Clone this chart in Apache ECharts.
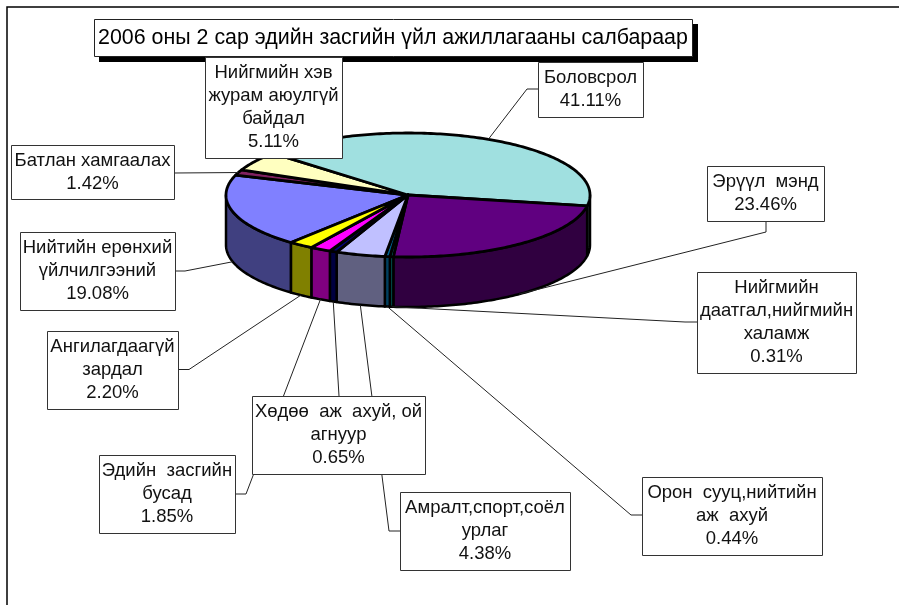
<!DOCTYPE html>
<html>
<head>
<meta charset="utf-8">
<style>
html, body { margin: 0; padding: 0; background: #fff; }
#chart { width: 899px; height: 605px; }
</style>
<script src="https://cdn.jsdelivr.net/npm/echarts@6/dist/echarts.min.js"></script>
</head>
<body>
<div id="chart"></div>
<script>
var titleText = '2006 оны 2 сар эдийн засгийн үйл ажиллагааны салбараар';

// slices, clockwise, same order as the sheet
var categories = [
    'Нийтийн ерөнхий\nүйлчилгээний',
    'Батлан хамгаалах',
    'Нийгмийн хэв\nжурам аюулгүй\nбайдал',
    'Боловсрол',
    'Эрүүл  мэнд',
    'Нийгмийн\nдаатгал,нийгмийн\nхаламж',
    'Орон  сууц,нийтийн\nаж  ахуй',
    'Амралт,спорт,соёл\nурлаг',
    'Хөдөө  аж  ахуй, ой\nагнуур',
    'Эдийн  засгийн\nбусад',
    'Ангилагдаагүй\nзардал'
];
var shares = [19.08, 1.42, 5.11, 41.11, 23.46, 0.31, 0.44, 4.38, 0.65, 1.85, 2.20];
var topColors = ['#8080ff', '#802060', '#ffffc0', '#a0e0e0', '#600080', '#008080', '#006090', '#c0c0ff', '#000080', '#ff00ff', '#ffff00'];
var sideColors = ['#404080', '#401030', '#808060', '#507070', '#300040', '#005050', '#004060', '#606080', '#000040', '#800080', '#808000'];

// label boxes: left, top, right, bottom
var labelBoxes = [
    [20, 232, 175, 310],
    [11, 145, 174, 199],
    [205, 57, 342, 158],
    [538, 62, 643, 117],
    [707, 166, 824, 221],
    [697, 272, 856, 373],
    [642, 477, 822, 555],
    [400, 492, 570, 570],
    [252, 396, 425, 474],
    [99, 455, 235, 533],
    [47, 331, 178, 409]
];
// leader: start on the box, then elbow (null = straight / no leader)
var leaders = [
    [[175, 271], [185, 271]],
    [[174, 173], null],
    null,
    [[538, 89], [527, 89]],
    [[766, 221], [766, 232]],
    [[697, 322], [685, 322]],
    [[642, 515], [631, 515]],
    [[400, 531], [389, 531]],
    [[339, 396], null],
    [[235, 494], [246, 494]],
    [[178, 369.5], [189, 369.5]]
];

var cx = 408, cy = 195, rx = 182, ry = 62, depth = 50;
var startAngle = 130;
var total = shares.reduce(function (a, b) { return a + b; }, 0);

function sliceRange(idx) {
    var a = startAngle;
    for (var i = 0; i < idx; i++) {
        a += shares[i] / total * 360;
    }
    return [a, a + shares[idx] / total * 360];
}

function rimPoint(deg, dy) {
    var t = deg * Math.PI / 180;
    return [cx + rx * Math.cos(t), cy + ry * Math.sin(t) + (dy || 0)];
}

function arcPoints(a, b, dy) {
    var pts = [];
    var n = Math.max(1, Math.ceil(Math.abs(b - a)));
    for (var i = 0; i <= n; i++) {
        pts.push(rimPoint(a + (b - a) * i / n, dy));
    }
    return pts;
}

// rim wall of a slice, only the part that faces the viewer (0-180 deg)
function renderSide(params, api) {
    var r = sliceRange(params.dataIndex);
    var children = [];
    [0, 360].forEach(function (off) {
        var a = Math.max(r[0], off);
        var b = Math.min(r[1], off + 180);
        if (b > a) {
            children.push({
                type: 'polygon',
                shape: { points: arcPoints(a, b, 0).concat(arcPoints(b, a, depth)) },
                style: { fill: sideColors[params.dataIndex], stroke: '#000', lineWidth: 2.5, lineJoin: 'round' }
            });
        }
    });
    return { type: 'group', children: children };
}

function renderTop(params, api) {
    var r = sliceRange(params.dataIndex);
    return {
        type: 'polygon',
        shape: { points: [[cx, cy]].concat(arcPoints(r[0], r[1], 0)) },
        style: { fill: topColors[params.dataIndex], stroke: '#000', lineWidth: 2.8, lineJoin: 'round' }
    };
}

// excel hangs the leader on the rim at the middle of the slice
function renderLeader(params, api) {
    var leader = leaders[params.dataIndex];
    if (!leader) {
        return { type: 'group', children: [] };
    }
    var r = sliceRange(params.dataIndex);
    var mid = (r[0] + r[1]) / 2 % 360;
    var end = rimPoint(mid, mid < 180 ? depth : 0);
    var pts = [leader[0]];
    if (leader[1]) {
        pts.push(leader[1]);
    }
    pts.push(end);
    return {
        type: 'polyline',
        shape: { points: pts },
        style: { fill: null, stroke: '#222', lineWidth: 1 }
    };
}

function renderLabel(params, api) {
    var i = params.dataIndex;
    var b = labelBoxes[i];
    return {
        type: 'group',
        children: [{
            type: 'rect',
            shape: { x: b[0] + 0.5, y: b[1] + 0.5, width: b[2] - b[0], height: b[3] - b[1] },
            style: { fill: '#fff', stroke: '#333', lineWidth: 1 }
        }, {
            type: 'text',
            x: (b[0] + b[2]) / 2,
            y: (b[1] + b[3]) / 2,
            style: {
                text: categories[i] + '\n' + api.value(0).toFixed(2) + '%',
                fill: '#111',
                font: '18.5px "Liberation Sans", Arial, sans-serif',
                lineHeight: 23,
                align: 'center',
                verticalAlign: 'middle'
            }
        }]
    };
}

function layer(render, z) {
    return {
        type: 'custom',
        coordinateSystem: 'none',
        silent: true,
        z: z,
        renderItem: render,
        data: shares.map(function (v) { return [v]; })
    };
}

var chart = echarts.init(document.getElementById('chart'), null, { renderer: 'canvas' });
chart.setOption({
    animation: false,
    title: {
        text: titleText,
        left: 94,
        top: 20,
        z: 1,
        padding: [6, 2, 6, 4],
        textStyle: {
            color: '#000',
            fontFamily: '"Liberation Sans", Arial, sans-serif',
            fontWeight: 'normal',
            fontSize: 21.4,
            lineHeight: 25
        }
    },
    graphic: [{
        type: 'polyline',
        silent: true,
        z: 0,
        shape: { points: [[7, 605], [7, 7], [899, 7]] },
        style: { fill: null, stroke: '#000', lineWidth: 1.5 }
    }, {
        type: 'rect',
        silent: true,
        z: 0,
        shape: { x: 99, y: 24, width: 599, height: 38 },
        style: { fill: '#000' }
    }, {
        type: 'rect',
        silent: true,
        z: 0,
        shape: { x: 94.5, y: 19.5, width: 598, height: 37 },
        style: { fill: '#fff', stroke: '#222', lineWidth: 1 }
    }],
    series: [
        layer(renderSide, 2),
        layer(renderTop, 3),
        layer(renderLeader, 4),
        layer(renderLabel, 5)
    ]
});
</script>
</body>
</html>
